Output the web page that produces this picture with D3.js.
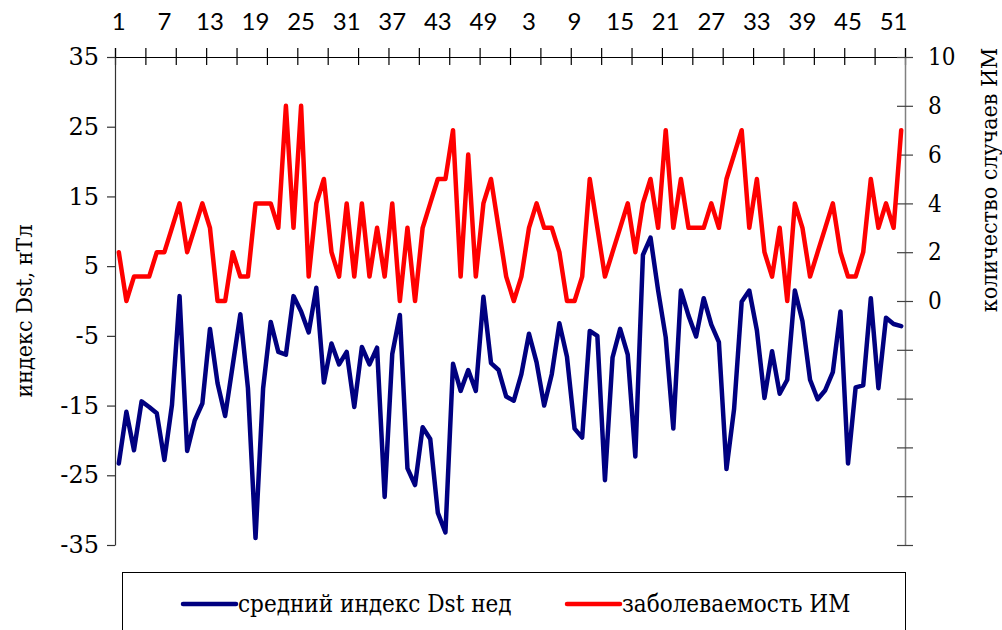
<!DOCTYPE html>
<html lang="ru">

<head>
    <meta charset="UTF-8">
    <title>Dst и заболеваемость ИМ</title>
    <script src="https://d3js.org/d3.v7.min.js"></script>
    <style>
        body {
            margin: 0;
            background: #ffffff;
        }

        svg {
            display: block;
        }

        .serif {
            font-family: "DejaVu Serif", "Liberation Serif", "Noto Serif", serif;
        }

        .serif-narrow {
            font-family: "DejaVu Serif Condensed", "DejaVu Serif", serif;
            font-stretch: condensed;
        }
    </style>
</head>

<body>
    <div id="chart"></div>
    <script>
        // недели двух лет подряд
        const weeks = [
            1, 2, 3, 4, 5, 6, 7, 8, 9, 10, 11, 12, 13, 14, 15, 16, 17, 18, 19, 20, 21, 22, 23, 24, 25, 26,
            27, 28, 29, 30, 31, 32, 33, 34, 35, 36, 37, 38, 39, 40, 41, 42, 43, 44, 45, 46, 47, 48, 49, 50, 51, 52,
            1, 2, 3, 4, 5, 6, 7, 8, 9, 10, 11, 12, 13, 14, 15, 16, 17, 18, 19, 20, 21, 22, 23, 24, 25, 26,
            27, 28, 29, 30, 31, 32, 33, 34, 35, 36, 37, 38, 39, 40, 41, 42, 43, 44, 45, 46, 47, 48, 49, 50, 51, 52
        ];

        // средний индекс Dst за неделю, нТл
        const dstWeekly = [
            -23.3, -15.9, -21.4, -14.4, -15.2, -16.1, -22.8, -14.9, 0.7, -21.5,
            -17.1, -14.7, -4.0, -11.8, -16.5, -9.2, -1.9, -12.5, -34.0, -12.5,
            -3.0, -7.3, -7.7, 0.7, -1.5, -4.5, 1.9, -11.7, -6.1, -9.1,
            -7.3, -15.2, -6.6, -9.1, -6.7, -28.1, -7.6, -2.0, -24.0, -26.4,
            -18.1, -19.8, -30.4, -33.2, -9.0, -12.9, -9.9, -12.9, 0.6, -8.9,
            -9.9, -13.7, -14.3, -10.5, -4.7, -8.8, -15.0, -10.5, -3.2, -8.0,
            -18.3, -19.6, -4.3, -5.0, -25.7, -8.1, -4.0, -7.7, -22.3, 6.6,
            9.1, 1.5, -5.2, -18.3, 1.5, -2.1, -5.1, 0.4, -3.4, -5.9,
            -24.1, -15.5, -0.1, 1.5, -4.2, -13.9, -7.2, -13.3, -11.3, 1.5,
            -2.9, -11.3, -14.1, -12.8, -10.2, -1.5, -23.3, -12.4, -12.1, 0.4,
            -12.5, -2.4, -3.3, -3.6
        ];

        // количество случаев ИМ за неделю
        const miCases = [
            2, 0, 1, 1, 1, 2, 2, 3, 4, 2,
            3, 4, 3, 0, 0, 2, 1, 1, 4, 4,
            4, 3, 8, 3, 8, 1, 4, 5, 2, 1,
            4, 1, 4, 1, 3, 1, 4, 0, 3, 0,
            3, 4, 5, 5, 7, 1, 6, 1, 4, 5,
            3, 1, 0, 1, 3, 4, 3, 3, 2, 0,
            0, 1, 5, 3, 1, 2, 3, 4, 2, 4,
            5, 3, 7, 3, 5, 3, 3, 3, 4, 3,
            5, 6, 7, 3, 5, 2, 1, 3, 0, 4,
            3, 1, 2, 3, 4, 2, 1, 1, 2, 5,
            3, 4, 3, 7
        ];

        const leftTicks = [-35, -25, -15, -5, 5, 15, 25, 35];
        const rightTicks = [-10, -8, -6, -4, -2, 0, 2, 4, 6, 8, 10];
        const rightLabels = [0, 2, 4, 6, 8, 10];
        const seriesNames = ["средний индекс Dst нед", "заболеваемость ИМ"];

        const width = 1002;
        const height = 630;
        const plot = { left: 115, right: 905, top: 57, bottom: 545 };

        const svg = d3.create("svg")
            .attr("width", width)
            .attr("height", height)
            .attr("viewBox", `0 0 ${width} ${height}`)
            .style("background", "#fff");

        // шкалы
        const x = d3.scaleBand()
            .domain(d3.range(weeks.length))
            .range([plot.left, plot.right])
            .padding(0);
        const xEdge = d3.scaleLinear()
            .domain([0, weeks.length])
            .range([plot.left, plot.right]);
        const y = d3.scaleLinear().domain([-35, 35]).range([plot.bottom, plot.top]);
        const y2 = d3.scaleLinear().domain([-10, 10]).range([plot.bottom, plot.top]);

        // верхняя ось: штрихи через 4 недели, подписи через 6
        const topTicks = svg.append("g")
            .attr("transform", `translate(0,${plot.top})`)
            .call(d3.axisTop(xEdge)
                .tickValues(d3.range(0, weeks.length + 1, 4))
                .tickFormat("")
                .tickSizeOuter(0)
                .tickSize(9));
        topTicks.select(".domain").attr("stroke", "#000").attr("stroke-width", 1.2);
        topTicks.selectAll(".tick line").attr("y1", 8).attr("stroke", "#000").attr("stroke-width", 1.2);

        const topLabels = svg.append("g")
            .attr("transform", `translate(0,${plot.top})`)
            .call(d3.axisTop(x)
                .tickValues(d3.range(0, weeks.length, 6))
                .tickFormat(i => weeks[i])
                .tickSize(0)
                .tickPadding(27));
        topLabels.select(".domain").remove();
        topLabels.selectAll("text")
            .style("font-family", "Lato, 'Open Sans', sans-serif")
            .style("font-size", "24px")
            .attr("fill", "#000");

        // левая ось
        const leftAxis = svg.append("g")
            .attr("transform", `translate(${plot.left},0)`)
            .call(d3.axisLeft(y)
                .tickValues(leftTicks)
                .tickFormat(d => String(d))
                .tickSize(8)
                .tickSizeOuter(0)
                .tickPadding(8));
        leftAxis.attr("font-family", null).attr("font-size", null);
        leftAxis.select(".domain").attr("stroke", "#333").attr("stroke-width", 1.2);
        leftAxis.selectAll(".tick line").attr("stroke", "#333").attr("stroke-width", 1.2);
        leftAxis.selectAll("text")
            .attr("class", "serif")
            .style("font-size", "24px")
            .attr("fill", "#000");

        // правая ось
        const rightAxis = svg.append("g")
            .attr("transform", `translate(${plot.right},0)`)
            .call(d3.axisRight(y2)
                .tickValues(rightTicks)
                .tickFormat(d => rightLabels.includes(d) ? String(d) : "")
                .tickSize(8)
                .tickSizeOuter(0)
                .tickPadding(15));
        rightAxis.attr("font-family", null).attr("font-size", null);
        rightAxis.select(".domain").attr("stroke", "#808080").attr("stroke-width", 1.5);
        rightAxis.selectAll(".tick line").attr("x1", -8).attr("stroke", "#404040").attr("stroke-width", 1.2);
        rightAxis.selectAll("text")
            .attr("class", "serif-narrow")
            .style("font-size", "24px")
            .attr("fill", "#000");

        // подписи осей
        svg.append("text")
            .attr("class", "serif-narrow")
            .attr("transform", `translate(32,311) rotate(-90)`)
            .attr("text-anchor", "middle")
            .style("font-size", "23px")
            .text("индекс Dst, нТл");

        svg.append("text")
            .attr("class", "serif-narrow")
            .attr("transform", `translate(997,180) rotate(-90)`)
            .attr("text-anchor", "middle")
            .style("font-size", "23px")
            .text("количество случаев ИМ");

        // линии
        const cx = i => x(i) + x.bandwidth() / 2;

        svg.append("path")
            .datum(dstWeekly)
            .attr("fill", "none")
            .attr("stroke", "#000080")
            .attr("stroke-width", 4.5)
            .attr("stroke-linejoin", "round")
            .attr("stroke-linecap", "round")
            .attr("d", d3.line().x((d, i) => cx(i)).y(d => y(d)));

        svg.append("path")
            .datum(miCases)
            .attr("fill", "none")
            .attr("stroke", "#ff0000")
            .attr("stroke-width", 4.5)
            .attr("stroke-linejoin", "round")
            .attr("stroke-linecap", "round")
            .attr("d", d3.line().x((d, i) => cx(i)).y(d => y2(d)));

        // легенда
        const legend = svg.append("g");
        legend.append("rect")
            .attr("x", 122.5)
            .attr("y", 572.5)
            .attr("width", 783)
            .attr("height", 80)
            .attr("fill", "#fff")
            .attr("stroke", "#000")
            .attr("stroke-width", 1);

        const legendItems = [
            { name: seriesNames[0], color: "#000080", x0: 183 },
            { name: seriesNames[1], color: "#ff0000", x0: 567 }
        ];
        legendItems.forEach(item => {
            legend.append("line")
                .attr("x1", item.x0).attr("x2", item.x0 + 53)
                .attr("y1", 604).attr("y2", 604)
                .attr("stroke", item.color)
                .attr("stroke-width", 4.5)
                .attr("stroke-linecap", "round");
            legend.append("text")
                .attr("class", "serif-narrow")
                .attr("x", item.x0 + 55)
                .attr("y", 612)
                .style("font-size", "24px")
                .text(item.name);
        });

        document.getElementById("chart").appendChild(svg.node());
    </script>
</body>

</html>
